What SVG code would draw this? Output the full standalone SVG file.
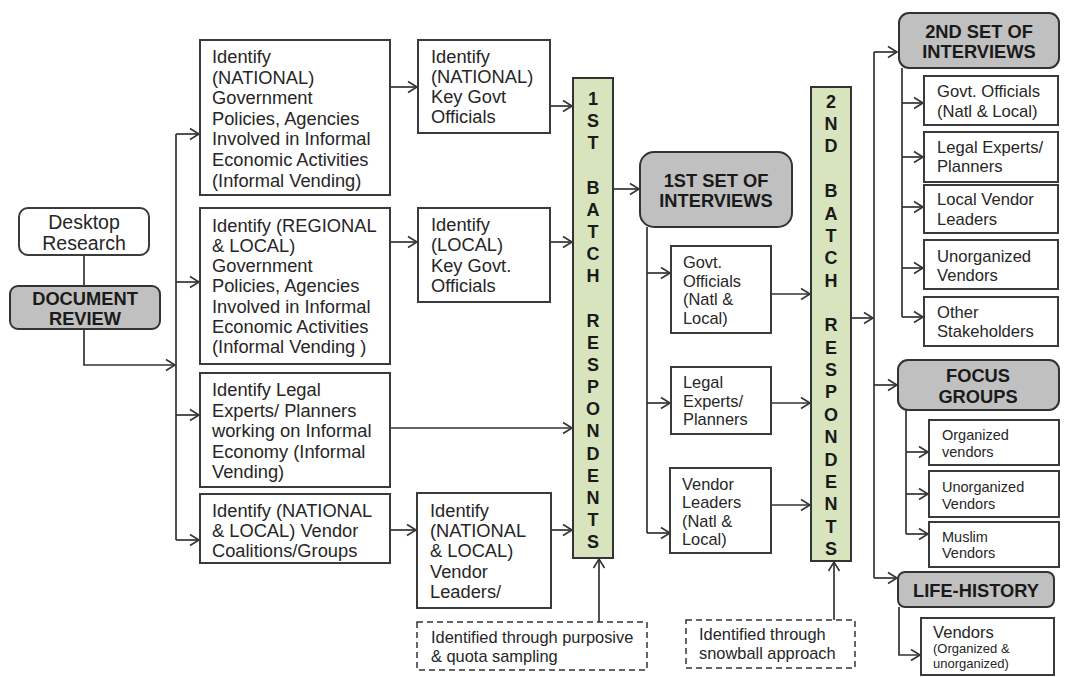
<svg xmlns="http://www.w3.org/2000/svg" width="1090" height="677" viewBox="0 0 1090 677">
<defs>
<marker id="ar" markerUnits="userSpaceOnUse" markerWidth="12" markerHeight="14" refX="10" refY="7" orient="auto">
<path d="M1,1.5 L10,7 L1,12.5" fill="none" stroke="#333" stroke-width="1.6"/>
</marker>
</defs>
<style>
text{font-family:"Liberation Sans",Arial,sans-serif;fill:#262626}
.t{font-size:18.3px}
.d{font-size:19.5px}
.s{font-size:16.4px}
.s2{font-size:16.6px}
.xs{font-size:14.5px}
.b{font-weight:bold;font-size:18.3px;fill:#1a1a1a}
.bb{font-weight:bold;font-size:18px;fill:#1a1a1a}
.box{fill:#fff;stroke:#3a3a3a;stroke-width:2}
.hdr{fill:#c0c0c0;stroke:#333;stroke-width:2}
.bar{fill:#d7e4bd;stroke:#333;stroke-width:2}
.dash{fill:#fff;stroke:#333;stroke-width:1.5;stroke-dasharray:6,4}
.c{fill:none;stroke:#333;stroke-width:1.7}
.c2{fill:none;stroke:#333;stroke-width:1.7;marker-end:url(#ar)}
</style>
<g id="connectors">
<line class="c" x1="84" y1="255" x2="84" y2="286"/>
<polyline class="c2" points="84,329 84,365 175,365"/>
<line class="c" x1="176" y1="134" x2="176" y2="540"/>
<line class="c2" x1="176" y1="134" x2="199" y2="134"/>
<line class="c2" x1="176" y1="282" x2="199" y2="282"/>
<line class="c2" x1="176" y1="415" x2="199" y2="415"/>
<line class="c2" x1="176" y1="540" x2="199" y2="540"/>
<line class="c2" x1="390" y1="87" x2="417" y2="87"/>
<line class="c2" x1="550" y1="106" x2="572" y2="106"/>
<line class="c2" x1="390" y1="242" x2="417" y2="242"/>
<line class="c2" x1="550" y1="242" x2="572" y2="242"/>
<line class="c2" x1="390" y1="428" x2="572" y2="428"/>
<line class="c2" x1="390" y1="530" x2="416" y2="530"/>
<line class="c2" x1="551" y1="530" x2="572" y2="530"/>
<line class="c2" x1="599" y1="622" x2="599" y2="559"/>
<line class="c2" x1="613" y1="189" x2="639" y2="189"/>
<line class="c" x1="647" y1="227" x2="647" y2="533"/>
<line class="c2" x1="647" y1="273" x2="670" y2="273"/>
<line class="c2" x1="647" y1="403" x2="670" y2="403"/>
<line class="c2" x1="647" y1="533" x2="670" y2="533"/>
<line class="c2" x1="771" y1="294" x2="810" y2="294"/>
<line class="c2" x1="771" y1="403" x2="810" y2="403"/>
<line class="c2" x1="771" y1="505" x2="810" y2="505"/>
<line class="c2" x1="834" y1="620" x2="834" y2="562"/>
<line class="c2" x1="851" y1="318" x2="873" y2="318"/>
<line class="c" x1="874" y1="52" x2="874" y2="578"/>
<line class="c2" x1="874" y1="52" x2="897" y2="52"/>
<line class="c2" x1="874" y1="385" x2="897" y2="385"/>
<line class="c2" x1="874" y1="578" x2="897" y2="578"/>
<line class="c" x1="902" y1="68" x2="902" y2="317"/>
<line class="c2" x1="902" y1="103" x2="923" y2="103"/>
<line class="c2" x1="902" y1="157" x2="923" y2="157"/>
<line class="c2" x1="902" y1="207" x2="923" y2="207"/>
<line class="c2" x1="902" y1="268" x2="923" y2="268"/>
<line class="c2" x1="902" y1="317" x2="923" y2="317"/>
<line class="c" x1="906" y1="410" x2="906" y2="534"/>
<line class="c2" x1="906" y1="452" x2="928" y2="452"/>
<line class="c2" x1="906" y1="494" x2="928" y2="494"/>
<line class="c2" x1="906" y1="534" x2="928" y2="534"/>
<polyline class="c2" points="899,607 899,655 920,655"/>
</g>
<g id="desktop-research">
<rect class="box" x="19" y="208" width="130" height="47" rx="9"/>
<text class="d" x="84" y="229" text-anchor="middle">Desktop</text>
<text class="d" x="84" y="250" text-anchor="middle">Research</text>
</g>
<g id="document-review">
<rect class="hdr" x="10" y="286" width="150" height="43" rx="8"/>
<text class="b" x="85" y="305" text-anchor="middle">DOCUMENT</text>
<text class="b" x="85" y="325" text-anchor="middle">REVIEW</text>
</g>
<g id="national-policies">
<rect class="box" x="200" y="40" width="190" height="155"/>
<text class="t"><tspan x="212" y="63">Identify</tspan><tspan x="212" y="84">(NATIONAL)</tspan><tspan x="212" y="104">Government</tspan><tspan x="212" y="125">Policies, Agencies</tspan><tspan x="212" y="145">Involved in Informal</tspan><tspan x="212" y="166">Economic Activities</tspan><tspan x="212" y="187">(Informal Vending)</tspan></text>
</g>
<g id="regional-policies">
<rect class="box" x="200" y="208" width="190" height="156"/>
<text class="t"><tspan x="212" y="232">Identify (REGIONAL</tspan><tspan x="212" y="252">&amp; LOCAL)</tspan><tspan x="212" y="272">Government</tspan><tspan x="212" y="292">Policies, Agencies</tspan><tspan x="212" y="313">Involved in Informal</tspan><tspan x="212" y="333">Economic Activities</tspan><tspan x="212" y="353">(Informal Vending )</tspan></text>
</g>
<g id="legal-experts">
<rect class="box" x="200" y="373" width="190" height="114"/>
<text class="t"><tspan x="212" y="396">Identify Legal</tspan><tspan x="212" y="417">Experts/ Planners</tspan><tspan x="212" y="437">working on Informal</tspan><tspan x="212" y="458">Economy (Informal</tspan><tspan x="212" y="478">Vending)</tspan></text>
</g>
<g id="vendor-coalitions">
<rect class="box" x="200" y="494" width="190" height="69"/>
<text class="t"><tspan x="212" y="517">Identify (NATIONAL</tspan><tspan x="212" y="537">&amp; LOCAL) Vendor</tspan><tspan x="212" y="557">Coalitions/Groups</tspan></text>
</g>
<g id="national-officials">
<rect class="box" x="418" y="40" width="132" height="93"/>
<text class="t"><tspan x="431" y="63">Identify</tspan><tspan x="431" y="83">(NATIONAL)</tspan><tspan x="431" y="103">Key Govt</tspan><tspan x="431" y="123">Officials</tspan></text>
</g>
<g id="local-officials">
<rect class="box" x="418" y="208" width="132" height="94"/>
<text class="t"><tspan x="431" y="231">Identify</tspan><tspan x="431" y="251">(LOCAL)</tspan><tspan x="431" y="272">Key Govt.</tspan><tspan x="431" y="292">Officials</tspan></text>
</g>
<g id="vendor-leaders-1">
<rect class="box" x="417" y="493" width="134" height="115"/>
<text class="t"><tspan x="430" y="517">Identify</tspan><tspan x="430" y="537">(NATIONAL</tspan><tspan x="430" y="557">&amp; LOCAL)</tspan><tspan x="430" y="578">Vendor</tspan><tspan x="430" y="598">Leaders/</tspan></text>
</g>
<g id="purposive-sampling">
<rect class="dash" x="417" y="622" width="230" height="48"/>
<text class="s"><tspan x="431" y="643">Identified through purposive</tspan><tspan x="431" y="662">&amp; quota sampling</tspan></text>
</g>
<g id="batch-1">
<rect class="bar" x="573" y="78" width="40" height="480"/>
<text class="bb" text-anchor="middle"><tspan x="593" y="105">1</tspan><tspan x="593" y="127">S</tspan><tspan x="593" y="149">T</tspan><tspan x="593" y="194">B</tspan><tspan x="593" y="216">A</tspan><tspan x="593" y="238">T</tspan><tspan x="593" y="260">C</tspan><tspan x="593" y="282">H</tspan><tspan x="593" y="327">R</tspan><tspan x="593" y="349">E</tspan><tspan x="593" y="371">S</tspan><tspan x="593" y="393">P</tspan><tspan x="593" y="415">O</tspan><tspan x="593" y="437">N</tspan><tspan x="593" y="460">D</tspan><tspan x="593" y="482">E</tspan><tspan x="593" y="504">N</tspan><tspan x="593" y="526">T</tspan><tspan x="593" y="548">S</tspan></text>
</g>
<g id="first-set">
<rect class="hdr" x="640" y="152" width="152" height="75" rx="14"/>
<text class="b" x="716" y="187" text-anchor="middle">1ST SET OF</text>
<text class="b" x="716" y="207" text-anchor="middle">INTERVIEWS</text>
</g>
<g id="govt-officials-1">
<rect class="box" x="671" y="246" width="100" height="87"/>
<text class="s"><tspan x="683" y="268">Govt.</tspan><tspan x="683" y="287">Officials</tspan><tspan x="683" y="305">(Natl &amp;</tspan><tspan x="683" y="324">Local)</tspan></text>
</g>
<g id="legal-experts-1">
<rect class="box" x="671" y="367" width="100" height="67"/>
<text class="s"><tspan x="683" y="388">Legal</tspan><tspan x="683" y="407">Experts/</tspan><tspan x="683" y="425">Planners</tspan></text>
</g>
<g id="vendor-leaders-2">
<rect class="box" x="670" y="468" width="101" height="85"/>
<text class="s"><tspan x="682" y="490">Vendor</tspan><tspan x="682" y="508">Leaders</tspan><tspan x="682" y="527">(Natl &amp;</tspan><tspan x="682" y="545">Local)</tspan></text>
</g>
<g id="snowball">
<rect class="dash" x="686" y="620" width="169" height="48"/>
<text class="s"><tspan x="699" y="640">Identified through</tspan><tspan x="699" y="659">snowball approach</tspan></text>
</g>
<g id="batch-2">
<rect class="bar" x="811" y="87" width="40" height="474"/>
<text class="bb" text-anchor="middle"><tspan x="831" y="108">2</tspan><tspan x="831" y="130">N</tspan><tspan x="831" y="152">D</tspan><tspan x="831" y="197">B</tspan><tspan x="831" y="220">A</tspan><tspan x="831" y="242">T</tspan><tspan x="831" y="264">C</tspan><tspan x="831" y="287">H</tspan><tspan x="831" y="331">R</tspan><tspan x="831" y="354">E</tspan><tspan x="831" y="376">S</tspan><tspan x="831" y="398">P</tspan><tspan x="831" y="421">O</tspan><tspan x="831" y="443">N</tspan><tspan x="831" y="466">D</tspan><tspan x="831" y="488">E</tspan><tspan x="831" y="510">N</tspan><tspan x="831" y="533">T</tspan><tspan x="831" y="555">S</tspan></text>
</g>
<g id="second-set">
<rect class="hdr" x="899" y="13" width="160" height="55" rx="10"/>
<text class="b" x="979" y="38" text-anchor="middle">2ND SET OF</text>
<text class="b" x="979" y="58" text-anchor="middle">INTERVIEWS</text>
</g>
<g id="govt-officials-2">
<rect class="box" x="924" y="76" width="134" height="49"/>
<text class="s2"><tspan x="937" y="97">Govt. Officials</tspan><tspan x="937" y="117">(Natl &amp; Local)</tspan></text>
</g>
<g id="legal-experts-2">
<rect class="box" x="924" y="132" width="134" height="50"/>
<text class="s2"><tspan x="937" y="153">Legal Experts/</tspan><tspan x="937" y="172">Planners</tspan></text>
</g>
<g id="local-vendor-leaders">
<rect class="box" x="924" y="185" width="134" height="48"/>
<text class="s2"><tspan x="937" y="205">Local Vendor</tspan><tspan x="937" y="225">Leaders</tspan></text>
</g>
<g id="unorganized-vendors-1">
<rect class="box" x="924" y="240" width="134" height="49"/>
<text class="s2"><tspan x="937" y="262">Unorganized</tspan><tspan x="937" y="281">Vendors</tspan></text>
</g>
<g id="other-stakeholders">
<rect class="box" x="924" y="297" width="134" height="49"/>
<text class="s2"><tspan x="937" y="318">Other</tspan><tspan x="937" y="337">Stakeholders</tspan></text>
</g>
<g id="focus-groups">
<rect class="hdr" x="898" y="360" width="161" height="50" rx="10"/>
<text class="b" x="978" y="382" text-anchor="middle">FOCUS</text>
<text class="b" x="978" y="403" text-anchor="middle">GROUPS</text>
</g>
<g id="organized-vendors">
<rect class="box" x="929" y="420" width="130" height="45"/>
<text class="xs"><tspan x="942" y="440">Organized</tspan><tspan x="942" y="457">vendors</tspan></text>
</g>
<g id="unorganized-vendors-2">
<rect class="box" x="929" y="471" width="130" height="46"/>
<text class="xs"><tspan x="942" y="492">Unorganized</tspan><tspan x="942" y="509">Vendors</tspan></text>
</g>
<g id="muslim-vendors">
<rect class="box" x="929" y="522" width="130" height="45"/>
<text class="xs"><tspan x="942" y="542">Muslim</tspan><tspan x="942" y="558">Vendors</tspan></text>
</g>
<g id="life-history">
<rect class="hdr" x="898" y="572" width="156" height="35" rx="7"/>
<text class="b" x="976" y="597" text-anchor="middle">LIFE-HISTORY</text>
</g>
<g id="vendors-life">
<rect class="box" x="921" y="618" width="133" height="57"/>
<text class="s2" x="933" y="638">Vendors</text>
<text style="font-size:13px"><tspan x="933" y="653">(Organized &amp;</tspan><tspan x="933" y="668">unorganized)</tspan></text>
</g>
</svg>
